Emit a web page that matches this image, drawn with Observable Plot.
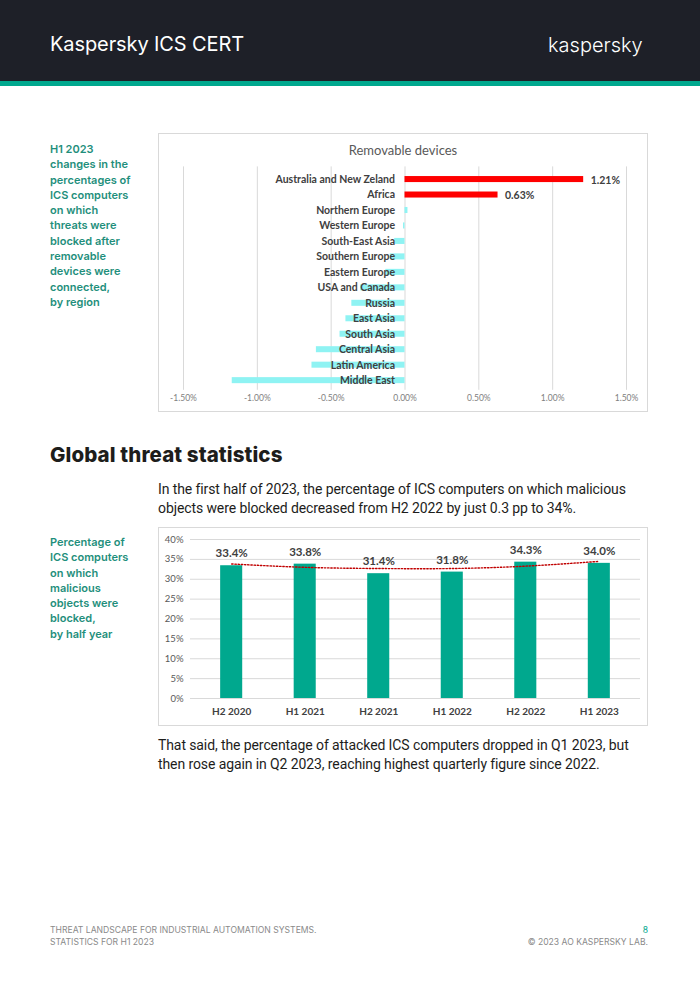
<!DOCTYPE html>
<html>
<head>
<meta charset="utf-8">
<script src="https://cdn.jsdelivr.net/npm/d3@7"></script>
<script src="https://cdn.jsdelivr.net/npm/@observablehq/plot@0.6"></script>
<style>
  html, body { margin: 0; padding: 0; background: #fff; }
  body { width: 700px; height: 990px; position: relative; overflow: hidden; font-family: Inter, "Noto Sans", sans-serif; }
  .abs { position: absolute; }
  #header { left: 0; top: 0; width: 700px; height: 81px; background: #1e2028; }
  #stripe { left: 0; top: 81px; width: 700px; height: 5px; background: #00a88e; }
  #brand { left: 50px; top: 32px; color: #fff; font-size: 20px; letter-spacing: -0.1px; }
  #logo { left: 548px; top: 33px; color: #fff; font-size: 20px; font-weight: 300; }
  .side { left: 50px; color: #1f8f7c; font-size: 11px; font-weight: 600; line-height: 15.3px; width: 100px; }
  .box { border: 1px solid #d9d9d9; box-sizing: border-box; }
  .box svg { display: block; }
  #h2 { left: 50px; top: 442px; font-size: 20.5px; font-weight: 800; color: #1d1d1b; letter-spacing: 0.1px; }
  .para { left: 158px; width: 500px; font-family: Roboto, sans-serif; font-size: 14px; line-height: 19px; color: #1d1d1b; letter-spacing: -0.1px; }
  .foot { font-size: 8.6px; color: #8a8a8a; line-height: 12px; }
  #ctitle { left: 158px; top: 142px; width: 490px; text-align: center; font-family: Lato, sans-serif; font-size: 13px; color: #595959; }
</style>
</head>
<body>
<div id="header" class="abs"></div>
<div id="stripe" class="abs"></div>
<div id="brand" class="abs">Kaspersky ICS CERT</div>
<div id="logo" class="abs">kaspersky</div>

<div class="abs side" style="top:142px">H1 2023<br>changes in the<br>percentages of<br>ICS computers<br>on which<br>threats were<br>blocked after<br>removable<br>devices were<br>connected,<br>by region</div>

<div id="chart1" class="abs box" style="left:158px; top:133px; width:490px; height:279px;"></div>
<div id="ctitle" class="abs">Removable devices</div>

<div id="h2" class="abs">Global threat statistics</div>
<div class="abs para" style="top:480px">In the first half of 2023, the percentage of ICS computers on which malicious<br>objects were blocked decreased from H2 2022 by just 0.3 pp to 34%.</div>

<div class="abs side" style="top:535px">Percentage of<br>ICS computers<br>on which<br>malicious<br>objects were<br>blocked,<br>by half year</div>

<div id="chart2" class="abs box" style="left:158px; top:527px; width:490px; height:199px;"></div>

<div class="abs para" style="top:736px">That said, the percentage of attacked ICS computers dropped in Q1 2023, but<br>then rose again in Q2 2023, reaching highest quarterly figure since 2022.</div>

<div class="abs foot" style="left:50px; top:924px;">THREAT LANDSCAPE FOR INDUSTRIAL AUTOMATION SYSTEMS.<br>STATISTICS FOR H1 2023</div>
<div class="abs foot" style="right:52px; top:924px; text-align:right;"><span style="color:#00a88e">8</span><br>© 2023 AO KASPERSKY LAB.</div>

<script>
// ---- Chart 1 data: change in percentage, by region ----
const regions = ["Australia and New Zeland", "Africa", "Northern Europe", "Western Europe", "South-East Asia", "Southern Europe", "Eastern Europe", "USA and Canada", "Russia", "East Asia", "South Asia", "Central Asia", "Latin America", "Middle East"];
const changes = [1.21, 0.63, 0.02, -0.01, -0.07, -0.10, -0.13, -0.30, -0.36, -0.40, -0.44, -0.60, -0.63, -1.17];
const xTicks = [-1.5, -1.0, -0.5, 0, 0.5, 1.0, 1.5];

// ---- Chart 2 data: percentage by half year ----
const periods = ["H2 2020", "H1 2021", "H2 2021", "H1 2022", "H2 2022", "H1 2023"];
const shares = [33.4, 33.8, 31.4, 31.8, 34.3, 34.0];
const trend = [33.85, 33.0, 32.7, 32.7, 33.3, 34.5];
const yTicks = [0, 5, 10, 15, 20, 25, 30, 35, 40];

const rows1 = regions.map((r, i) => ({region: r, value: changes[i]}));
const rows2 = periods.map((p, i) => ({period: p, value: shares[i], trend: trend[i]}));

const chart1 = Plot.plot({
  width: 488, height: 277,
  marginLeft: 24, marginRight: 21, marginTop: 37.4, marginBottom: 23.2,
  style: {fontFamily: "Lato, sans-serif", background: "transparent", overflow: "visible"},
  x: {domain: [-1.5, 1.5], ticks: xTicks, label: null},
  y: {domain: regions, paddingInner: 0.61, paddingOuter: 0.3, round: false, axis: null},
  marks: [
    Plot.ruleX(xTicks, {stroke: "#d9d9d9", strokeWidth: 1, insetTop: -5, insetBottom: -2}),
    Plot.barX(rows1, {x: "value", y: "region", fill: d => d.value > 0.1 ? "#ff0000" : "#8ff3f3"}),
    Plot.text(rows1, {x: 0, y: "region", text: "region", textAnchor: "end", dx: -10, fontWeight: "bold", fontSize: 10.5, fill: "#404040"}),
    Plot.text(rows1.filter(d => d.value > 0.1), {x: "value", y: "region", text: d => d.value.toFixed(2) + "%", textAnchor: "start", dx: 7, dy: 1, fontWeight: "bold", fontSize: 10.5, fill: "#404040"}),
    Plot.axisX({ticks: xTicks, tickSize: 0, tickPadding: 7, label: null, tickFormat: d => d.toFixed(2) + "%", fontSize: 8.5, color: "#808080"})
  ]
});
document.getElementById("chart1").appendChild(chart1);

const chart2 = Plot.plot({
  width: 488, height: 197,
  marginLeft: 31, marginRight: 7, marginTop: 11, marginBottom: 27,
  style: {fontFamily: "Lato, sans-serif", background: "transparent", overflow: "visible"},
  x: {domain: periods, paddingInner: 0.70, paddingOuter: 0.41, round: false, label: null},
  y: {domain: [0, 40], ticks: yTicks, label: null},
  marks: [
    Plot.gridY(yTicks, {stroke: "#d9d9d9", strokeOpacity: 1}),
    Plot.barY(rows2, {x: "period", y: "value", fill: "#00a88e"}),
    Plot.line(rows2, {x: "period", y: "trend", curve: "natural", stroke: "#c00000", strokeWidth: 1.4, strokeDasharray: "1.4,1.8"}),
    Plot.text(rows2, {x: "period", y: "value", text: d => d.value.toFixed(1) + "%", dy: -12, fontWeight: "bold", fontSize: 11.5, fill: "#404040"}),
    Plot.axisY({ticks: yTicks, tickSize: 0, tickPadding: 7, label: null, tickFormat: d => d + "%", fontSize: 9.5, color: "#595959"}),
    Plot.axisX({tickSize: 0, tickPadding: 9, label: null, fontSize: 10, color: "#404040", fontWeight: "bold"})
  ]
});
document.getElementById("chart2").appendChild(chart2);
</script>
</body>
</html>
